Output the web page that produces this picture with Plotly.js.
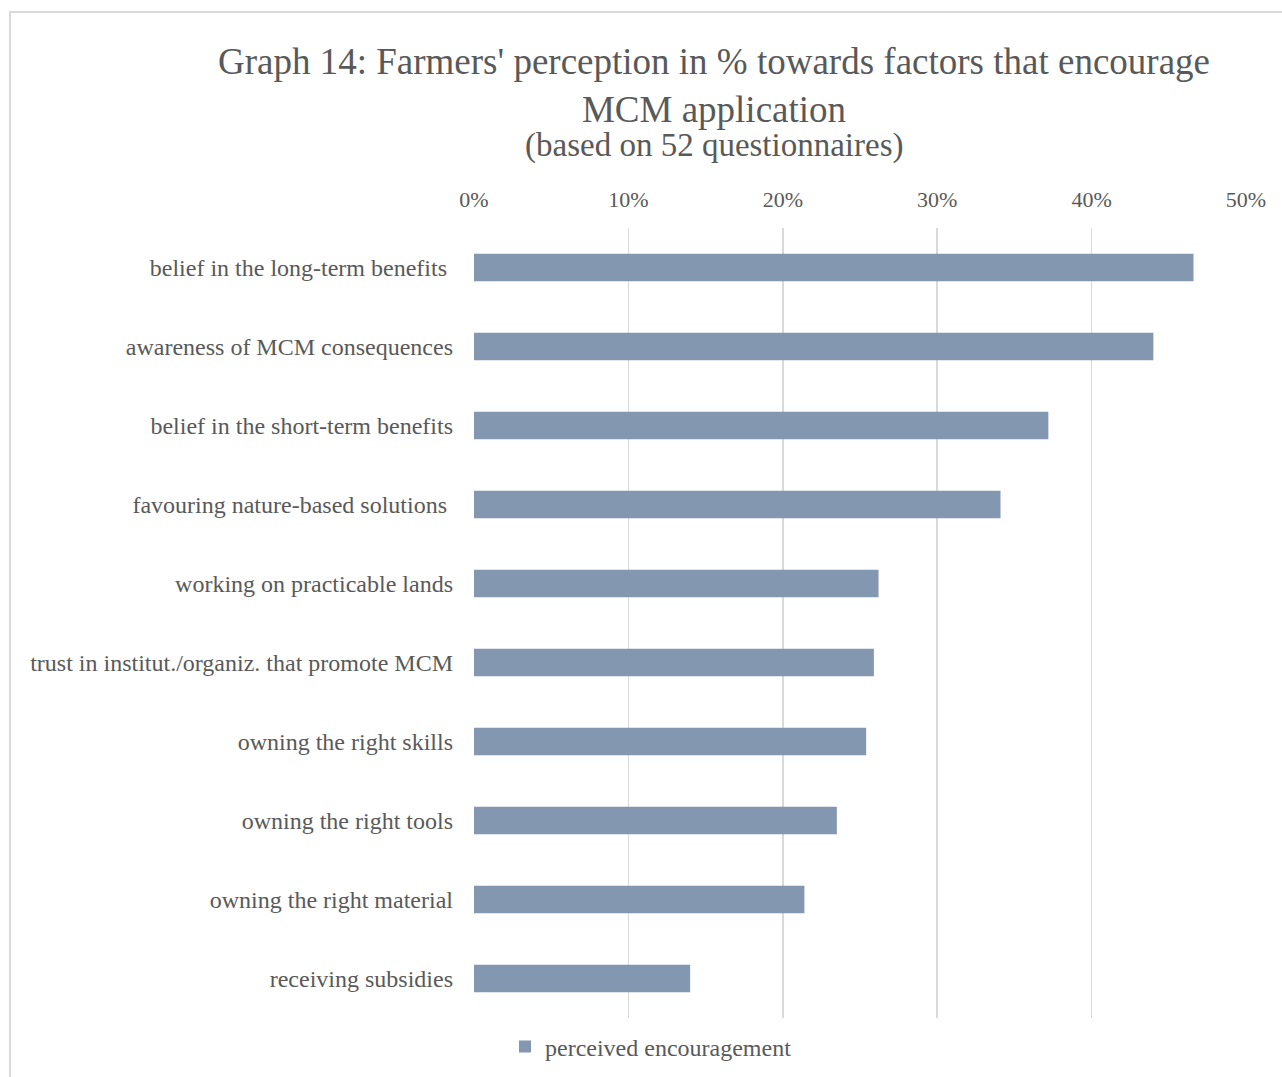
<!DOCTYPE html>
<html>
<head>
<meta charset="utf-8">
<script src="https://cdn.plot.ly/plotly-3.0.1.min.js"></script>
<style>
  html, body { margin: 0; padding: 0; background: #ffffff; }
  #chart { width: 1282px; height: 1077px; }
</style>
</head>
<body>
<div id="chart"></div>
<script>
// ---- data ----
const categories = [
  "belief in the long-term benefits\u00a0",
  "awareness of MCM consequences",
  "belief in the short-term benefits",
  "favouring nature-based solutions\u00a0",
  "working on practicable lands",
  "trust in institut./organiz. that promote MCM",
  "owning the right skills",
  "owning the right tools",
  "owning the right material",
  "receiving subsidies"
];
const encouragement = [46.6, 44.0, 37.2, 34.1, 26.2, 25.9, 25.4, 23.5, 21.4, 14.0];
const seriesName = "perceived encouragement";
const tickValues = [0, 10, 20, 30, 40, 50];
const tickLabels = ["0%", "10%", "20%", "30%", "40%", "50%"];
const titleText = "Graph 14: Farmers' perception in % towards factors that encourage<br>MCM application";
const subtitleText = "(based on 52 questionnaires)";

// ---- chart ----
const textColor = "#595959";
const fontFamily = "'Liberation Serif', 'Times New Roman', serif";

const trace = {
  type: "bar",
  orientation: "h",
  y: categories,
  x: encouragement,
  name: seriesName,
  marker: { color: "#8497B0", line: { width: 0 } },
  showlegend: true,
  hovertemplate: "%{y}: %{x}%<extra></extra>"
};

const layout = {
  width: 1282,
  height: 1077,
  paper_bgcolor: "#ffffff",
  plot_bgcolor: "#ffffff",
  font: { family: fontFamily, color: textColor, size: 24 },
  margin: { l: 474, r: 36, t: 228, b: 59, pad: 0, autoexpand: false },
  title: {
    text: titleText,
    font: { family: fontFamily, size: 37, color: textColor },
    x: 714 / 1282,
    xanchor: "center",
    xref: "container",
    yref: "container",
    y: 1 - 74 / 1077,
    yanchor: "top"
  },
  annotations: [{
    text: subtitleText,
    xref: "paper", yref: "paper",
    x: (714 - 474) / 772, y: (1018 - 145) / 790,
    xanchor: "center", yanchor: "middle",
    showarrow: false,
    font: { family: fontFamily, size: 33, color: textColor }
  }],
  bargap: 0.652,
  xaxis: {
    side: "top",
    range: [0, 50],
    tickvals: tickValues,
    ticktext: tickLabels,
    showgrid: true,
    gridcolor: "#D9D9D9",
    gridwidth: 1.5,
    zeroline: false,
    showline: false,
    ticks: "",
    ticklabelstandoff: 16,
    tickfont: { family: fontFamily, size: 22, color: textColor },
    fixedrange: true
  },
  yaxis: {
    type: "category",
    autorange: "reversed",
    showgrid: false,
    zeroline: false,
    showline: false,
    ticks: "",
    ticklabelstandoff: 20,
    tickfont: { family: fontFamily, size: 24, color: textColor },
    fixedrange: true
  },
  legend: {
    orientation: "h",
    x: (651 - 474) / 772,
    xanchor: "center",
    y: -29 / 790,
    yanchor: "middle",
    font: { family: fontFamily, size: 24, color: textColor },
    bgcolor: "rgba(0,0,0,0)",
    itemwidth: 30
  },
  shapes: [{
    type: "rect",
    xref: "paper", yref: "paper",
    x0: (10 - 474) / 772, x1: (1300 - 474) / 772,
    y0: (1018 - 1100) / 790, y1: (1018 - 12) / 790,
    line: { color: "#D9D9D9", width: 2 },
    fillcolor: "rgba(0,0,0,0)",
    layer: "below"
  }]
};

Plotly.newPlot("chart", [trace], layout, { displayModeBar: false, staticPlot: true });
</script>
</body>
</html>
